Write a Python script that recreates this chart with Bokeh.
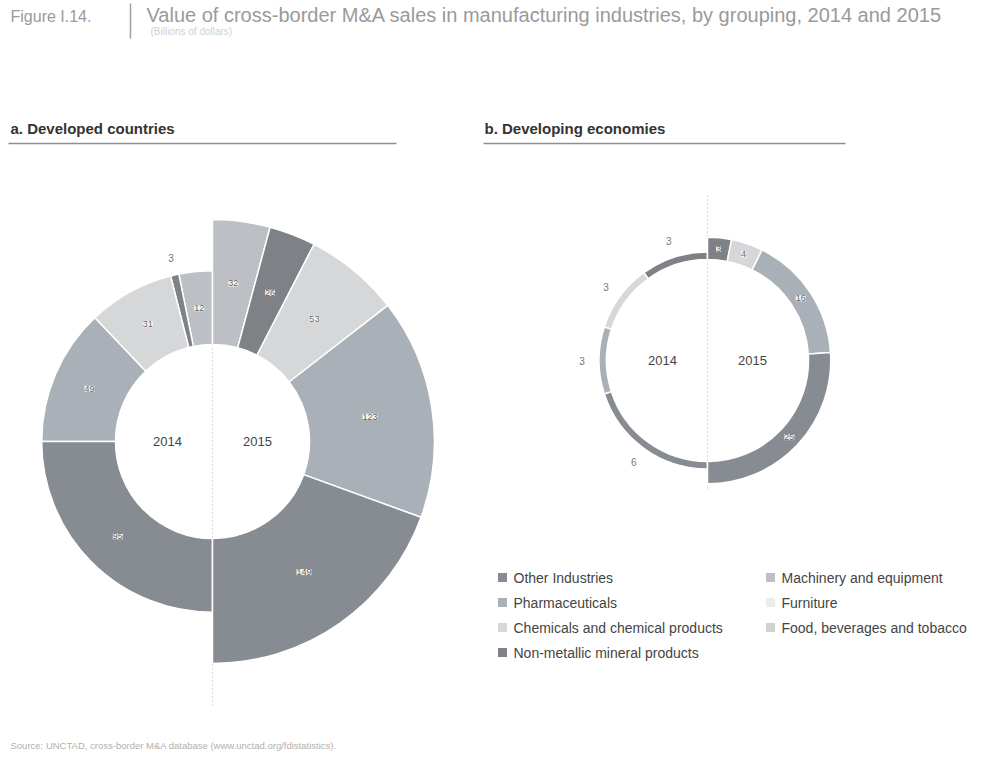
import math
from bokeh.plotting import figure
from bokeh.models import Range1d, ColumnDataSource
from bokeh.core.properties import value
from bokeh.embed import file_html
from bokeh.resources import INLINE

# ---------------- data (billions of dollars) ----------------
categories = ["Other Industries", "Pharmaceuticals", "Chemicals and chemical products",
              "Non-metallic mineral products", "Machinery and equipment", "Furniture",
              "Food, beverages and tobacco"]
colors = ["#878c93", "#a9b0b7", "#d5d7d9", "#7e8287", "#bcbfc3", "#ececec", "#cfd1d3"]
years = ["2014", "2015"]
developed_2014 = [95, 49, 31, 3, 12, 0, 0]
developed_2015 = [149, 123, 53, 26, 32, 0, 0]
developing_2014 = [6, 3, 3, 3, 0, 0, 0]
developing_2015 = [25, 16, 4, 3, 0, 0, 0]

title = "Value of cross-border M&A sales in manufacturing industries, by grouping, 2014 and 2015"
subtitle = "(Billions of dollars)"
panel_titles = ["a. Developed countries", "b. Developing economies"]
source_note = "Source: UNCTAD, cross-border M&A database (www.unctad.org/fdistatistics)."

# ---------------- figure ----------------
W, H = 988, 758
FONT = "Liberation Sans"
p = figure(width=W, height=H, x_range=Range1d(0, W), y_range=Range1d(0, H),
           output_backend="svg", toolbar_location=None, min_border=0)
p.axis.visible = False
p.grid.visible = False
p.outline_line_color = None
p.background_fill_color = "white"


def X(x):
    return x


def Y(y):
    return H - y


SCALE = 104.0  # ring area (px^2) per billion dollars


def draw_donut(cx, cy, r_in, v14, v15, dash_top, dash_bottom):
    p.segment(x0=[cx], y0=[Y(dash_top)], x1=[cx], y1=[Y(dash_bottom)],
              line_color="#b8b8b8", line_width=1, line_dash="1 3")
    for side, vals in (("2014", v14), ("2015", v15)):
        total = float(sum(vals))
        r_out = math.sqrt(r_in ** 2 + SCALE * total)
        thick = r_out - r_in
        src = dict(start=[], end=[], color=[])
        lab = dict(x=[], y=[], t=[])
        lab_out = dict(x=[], y=[], t=[])
        cum = 0.0
        for i in range(len(vals) - 1, -1, -1):
            v = vals[i]
            if v <= 0:
                continue
            a0 = cum / total * 180.0
            a1 = (cum + v) / total * 180.0
            cum += v
            if side == "2015":
                s, e = 90 - a1, 90 - a0
            else:
                s, e = 90 + a0, 90 + a1
            src["start"].append(math.radians(s))
            src["end"].append(math.radians(e))
            src["color"].append(colors[i])
            m = math.radians((s + e) / 2)
            if thick >= 15 and (a1 - a0) >= 6:
                rr = (r_in + r_out) / 2
                lab["x"].append(cx + rr * math.cos(m))
                lab["y"].append(cy + rr * math.sin(m))
                lab["t"].append(str(v))
            else:
                rr = r_out + 17
                lab_out["x"].append(cx + rr * math.cos(m))
                lab_out["y"].append(cy + rr * math.sin(m))
                lab_out["t"].append(str(v))
        p.annular_wedge(x=cx, y=cy, inner_radius=r_in, outer_radius=r_out,
                        start_angle="start", end_angle="end", fill_color="color",
                        line_color="white", line_width=1.5,
                        source=ColumnDataSource(src))
        p.text(x="x", y="y", text="t", source=ColumnDataSource(lab),
               text_font=value(FONT), text_font_size="9px", text_color="#666666",
               text_align="center", text_baseline="middle",
               background_fill_color="white", background_fill_alpha=0.85)
        p.text(x="x", y="y", text="t", source=ColumnDataSource(lab_out),
               text_font=value(FONT), text_font_size="10px", text_color="#777777",
               text_align="center", text_baseline="middle")
        off = -45 if side == "2014" else 45
        p.text(x=[cx + off], y=[cy], text=[side], text_font=value(FONT),
               text_font_size="13px", text_color="#444444",
               text_align="center", text_baseline="middle")


draw_donut(X(212), Y(441), 97, developed_2014, developed_2015, 232, 705)
draw_donut(X(707), Y(360), 101, developing_2014, developing_2015, 195, 490)

# ---------------- header ----------------
p.text(x=[X(10)], y=[Y(16)], text=["Figure I.14."], text_font=value(FONT),
       text_font_size="16px", text_color="#9a9a9a", text_baseline="middle")
p.segment(x0=[X(130)], y0=[Y(3)], x1=[X(130)], y1=[Y(38)], line_color="#a0a0a0", line_width=1.5)
p.text(x=[X(146)], y=[Y(14)], text=[title], text_font=value(FONT),
       text_font_size="20px", text_color="#9a9a9a", text_baseline="middle")
p.text(x=[X(150)], y=[Y(31)], text=[subtitle], text_font=value(FONT),
       text_font_size="10px", text_color="#d0d0d0", text_baseline="middle")

# panel titles with rules
for tx, x0, x1, t in ((10, 8, 396, panel_titles[0]), (484, 483, 845, panel_titles[1])):
    p.text(x=[X(tx)], y=[Y(128)], text=[t], text_font=value(FONT), text_font_size="15px",
           text_font_style="bold", text_color="#333333", text_baseline="middle")
    p.segment(x0=[X(x0)], y0=[Y(143)], x1=[X(x1)], y1=[Y(143)], line_color="#8f8f8f", line_width=1.5)

# ---------------- legend ----------------
leg_cols = [502, 770]
leg_rows = [577, 602, 627, 652]
lx, ly, lt, lc = [], [], [], []
for i, c in enumerate(categories):
    col, row = (0, i) if i < 4 else (1, i - 4)
    lx.append(X(leg_cols[col]))
    ly.append(Y(leg_rows[row]))
    lt.append(c)
    lc.append(colors[i])
p.rect(x=lx, y=ly, width=9, height=9, fill_color=lc, line_color=None)
p.text(x=[x + 11 for x in lx], y=ly, text=lt, text_font=value(FONT), text_font_size="14px",
       text_color="#444444", text_baseline="middle")

# ---------------- source ----------------
p.text(x=[X(10)], y=[Y(745)], text=[source_note], text_font=value(FONT),
       text_font_size="9.5px", text_color="#b0b0b0", text_baseline="middle")

open("out.html", "w").write(file_html(p, INLINE))
